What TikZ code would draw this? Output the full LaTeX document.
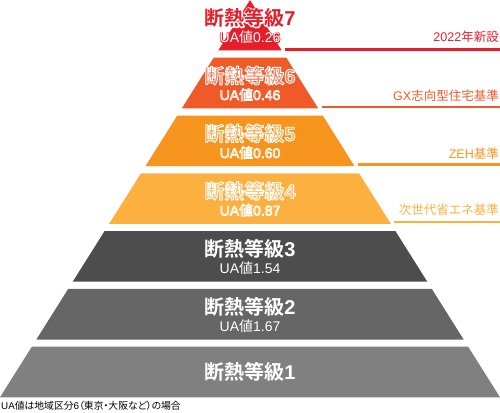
\documentclass[tikz,border=0pt]{standalone}
\usepackage{fontspec}
\setmainfont{Liberation Sans}
\newfontfamily\cjk{Noto Sans CJK JP}[BoldFont=Noto Sans CJK JP Bold]
\newfontfamily\cjkp{Noto Sans CJK JP}[RawFeature=+palt]
\newcommand\J[1]{{\cjk #1}}
% halo text: a stroked copy (#1 stroke colour r g b, #2 stroke width) behind the filled text #3
\newcommand\halo[3]{\rlap{\special{pdf:literal direct #2 w #1 RG 1 j 1 Tr}#3\special{pdf:literal direct 0 Tr}}#3}
% outlined text: fill in the current colour, white stroke of width #1
\newcommand\outl[2]{\special{pdf:literal direct #1 w 1 1 1 RG 1 j 2 Tr}#2\special{pdf:literal direct 0 Tr}}
\definecolor{lv7}{HTML}{E61E2A}
\definecolor{lv6}{HTML}{F05A28}
\definecolor{lv5}{HTML}{F7941E}
\definecolor{lv4}{HTML}{FBB040}
\definecolor{lv3}{HTML}{4D4D4D}
\definecolor{lv2}{HTML}{666666}
\definecolor{lv1}{HTML}{808080}
\tikzset{
  title/.style={font=\bfseries\fontsize{20}{20}\selectfont, text=white, inner sep=0pt, anchor=base},
  ua/.style={font=\fontsize{14}{14}\selectfont, text=white, inner sep=0pt, anchor=base},
  lbl/.style={font=\fontsize{12.5}{12.5}\selectfont, inner sep=0pt, anchor=base east},
  rulebar/.style={line width=2.5pt},
}
\begin{document}
\begin{tikzpicture}[x=1pt,y=-1pt]
\useasboundingbox (0,0) rectangle (500,412);
% bands
\foreach \i/\c in {1/lv1,2/lv2,3/lv3,4/lv4,5/lv5,6/lv6,7/lv7}{
  \pgfmathsetmacro\yb{397.3-(\i-1)*57.8}
  \pgfmathsetmacro\yt{max(\yb-50.6,0)}
  \pgfmathsetmacro\xlb{250-0.6293*\yb}
  \pgfmathsetmacro\xrb{250+0.6293*\yb}
  \pgfmathsetmacro\xlt{250-0.6293*\yt}
  \pgfmathsetmacro\xrt{250+0.6293*\yt}
  \fill[\c] (\xlb,\yb) -- (\xrb,\yb) -- (\xrt,\yt) -- (\xlt,\yt) -- cycle;
}
% band texts
\node[title] (t1) at (250,379) {\J{断熱等級}1};
\node[title] (t2) at (250,314.5) {\J{断熱等級}2};
\node[ua] (u2) at (250,331.5) {UA\J{値}1.67};
\node[title] (t3) at (250,256.5) {\J{断熱等級}3};
\node[ua] (u3) at (250,273.5) {UA\J{値}1.54};
\node[title, text=lv4!75!white] (t4) at (250,198.5) {\outl{0.9}{\J{断熱等級}4}};
\node[ua, text=lv4!75!white] (u4) at (250,215.5) {\outl{0.7}{UA\J{値}0.87}};
\node[title, text=lv5!75!white] (t5) at (250,141) {\outl{0.9}{\J{断熱等級}5}};
\node[ua, text=lv5!75!white] (u5) at (250,158) {\outl{0.7}{UA\J{値}0.60}};
\node[title, text=lv6!75!white] (t6) at (250,83.2) {\outl{0.9}{\J{断熱等級}6}};
\node[ua, text=lv6!75!white] (u6) at (250,100) {\outl{0.7}{UA\J{値}0.46}};
\node[title, text=lv7] (t7) at (250,25.5) {\halo{1 1 1}{2.4}{\J{断熱等級}7}};
\node[ua] (u7) at (250,42.5) {\halo{0.902 0.118 0.165}{1.6}{UA\J{値}0.26}};
% right labels and rules
\node[lbl, text=lv7] (l7) at (499,41.1) {2022\J{年新設}};
\coordinate (r7a) at (285,49.5); \coordinate (r7b) at (500,49.5);
\draw[rulebar, lv7] (r7a) -- (r7b);
\node[lbl, text=lv6] (l6) at (499,100.6) {GX\J{志向型住宅基準}};
\coordinate (r6a) at (321.5,107); \coordinate (r6b) at (500,107);
\draw[rulebar, lv6] (r6a) -- (r6b);
\node[lbl, text=lv5] (l5) at (499,158.1) {ZEH\J{基準}};
\coordinate (r5a) at (357.5,164.5); \coordinate (r5b) at (500,164.5);
\draw[rulebar, lv5] (r5a) -- (r5b);
\node[lbl, text=lv4] (l4) at (499,214.6) {\J{次世代省エネ基準}};
\coordinate (r4a) at (393.5,222); \coordinate (r4b) at (500,222);
\draw[rulebar, lv4] (r4a) -- (r4b);
% footnote
\node[anchor=base west, inner sep=0pt, font=\fontsize{9.8}{9.8}\selectfont] (fn) at (1,409.3)
  {UA{\cjkp 値は地域区分}6{\cjkp （東京・大阪など）の場合}};
\end{tikzpicture}
\end{document}
